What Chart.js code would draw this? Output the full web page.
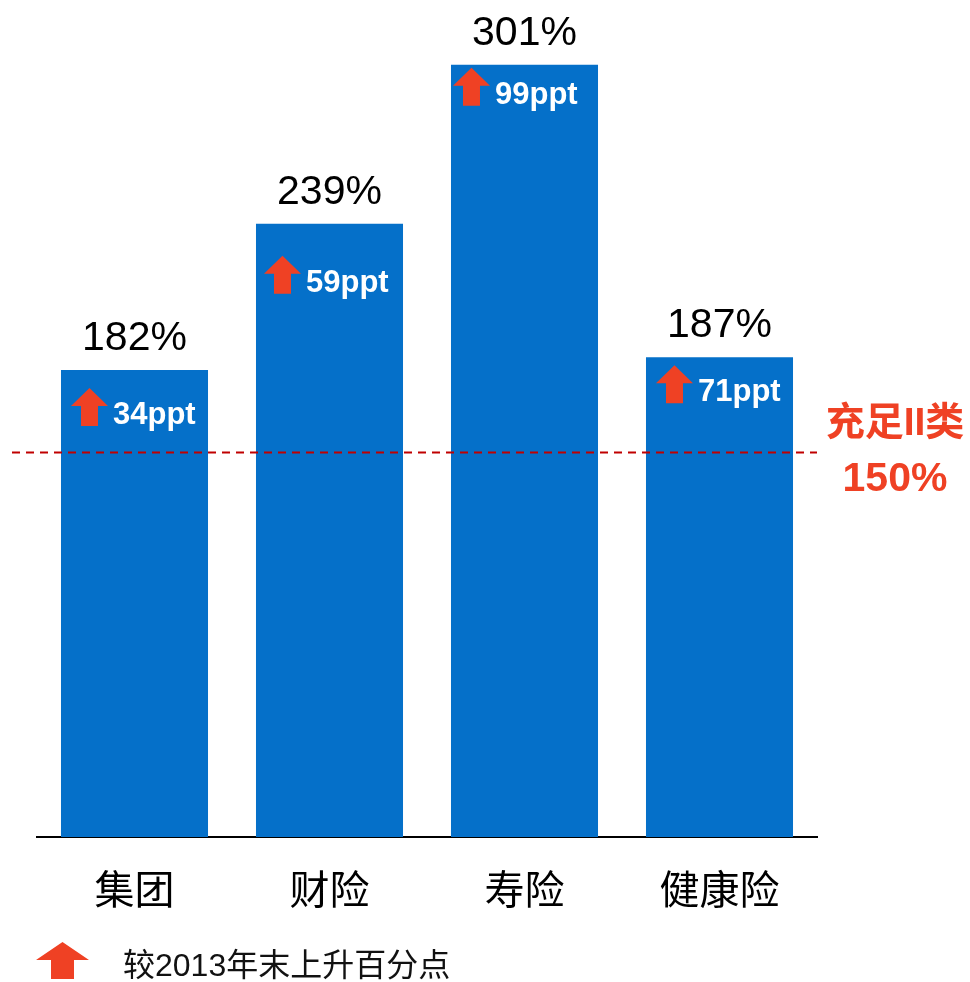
<!DOCTYPE html>
<html>
<head>
<meta charset="utf-8">
<script src="https://cdn.jsdelivr.net/npm/chart.js@4/dist/chart.umd.min.js"></script>
<style>
  html, body { margin: 0; padding: 0; background: #fff; }
</style>
</head>
<body>
<canvas id="c" width="970" height="982"></canvas>
<script>
const categories = ["集团", "财险", "寿险", "健康险"];
const ratios = [182, 239, 301, 187];
const increases = [34, 59, 99, 71];
const threshold = 150;
const thresholdLabel = ["充足II类", "150%"];
const legendLabel = "较2013年末上升百分点";

// where the little arrow sits inside each bar (px from the bar's top-left corner)
const arrowDx = [10, 8, 2, 10];
const arrowDy = [18, 32, 3, 8];

const BLUE = "#0570C9";
const RED = "#EF4124";
const LATIN = "'Liberation Sans', Arial, 'Noto Sans CJK SC'";
const CJK = "'Noto Sans CJK SC', 'Liberation Sans'";

const upArrow = (ctx, x, y, w, h, headH, shaftW) => {
    const cx = x + w / 2;
    ctx.beginPath();
    ctx.moveTo(cx, y);
    ctx.lineTo(x + w, y + headH);
    ctx.lineTo(cx + shaftW / 2, y + headH);
    ctx.lineTo(cx + shaftW / 2, y + h);
    ctx.lineTo(cx - shaftW / 2, y + h);
    ctx.lineTo(cx - shaftW / 2, y + headH);
    ctx.lineTo(x, y + headH);
    ctx.closePath();
    ctx.fill();
};

const annotations = {
    id: "annotations",
    afterDatasetsDraw(chart) {
        const ctx = chart.ctx;
        const meta = chart.getDatasetMeta(0);
        const yScale = chart.scales.y;
        ctx.save();

        // bar labels
        meta.data.forEach((bar, i) => {
            const left = bar.x - bar.width / 2;
            ctx.fillStyle = "#000";
            ctx.font = "41px " + LATIN;
            ctx.textAlign = "center";
            ctx.textBaseline = "alphabetic";
            ctx.fillText(ratios[i] + "%", bar.x, bar.y - 20);

            const ax = left + arrowDx[i], ay = bar.y + arrowDy[i];
            ctx.fillStyle = RED;
            upArrow(ctx, ax, ay, 37, 38, 18, 17);
            ctx.fillStyle = "#fff";
            ctx.font = "bold 31px " + LATIN;
            ctx.textAlign = "left";
            ctx.fillText(increases[i] + "ppt", ax + 42, ay + 36);
        });

        // threshold line
        const ty = Math.round(yScale.getPixelForValue(threshold)) + 0.5;
        ctx.strokeStyle = "#C00000";
        ctx.lineWidth = 2;
        ctx.setLineDash([8, 6]);
        ctx.beginPath();
        ctx.moveTo(12, ty);
        ctx.lineTo(chart.chartArea.right, ty);
        ctx.stroke();
        ctx.setLineDash([]);

        ctx.fillStyle = RED;
        ctx.textAlign = "center";
        ctx.textBaseline = "middle";
        ctx.font = "bold 39px " + LATIN;
        ctx.fillText(thresholdLabel[0], 895, ty - 28);
        ctx.textBaseline = "alphabetic";
        ctx.font = "bold 41px " + LATIN;
        ctx.fillText(thresholdLabel[1], 895, ty + 38);

        // legend
        ctx.fillStyle = RED;
        upArrow(ctx, 36, 942, 53, 37, 18, 23);
        ctx.fillStyle = "#111";
        ctx.textAlign = "left";
        ctx.textBaseline = "middle";
        ctx.font = "32px " + LATIN;
        ctx.fillText(legendLabel, 123, 967);

        ctx.restore();
    }
};

new Chart(document.getElementById("c").getContext("2d"), {
    type: "bar",
    data: {
        labels: categories,
        datasets: [{
            label: legendLabel,
            data: ratios,
            backgroundColor: BLUE,
            categoryPercentage: 1,
            barPercentage: 0.754
        }]
    },
    options: {
        responsive: false,
        animation: false,
        layout: { padding: { left: 37, right: 153, top: 16, bottom: 0 } },
        plugins: {
            legend: { display: false },
            tooltip: { enabled: false }
        },
        scales: {
            x: {
                grid: { display: false, drawTicks: false },
                border: { display: true, color: "#000", width: 2 },
                ticks: {
                    color: "#000",
                    padding: 28,
                    font: { family: CJK, size: 40 }
                },
                afterFit: (scale) => { scale.height = 145; }
            },
            y: {
                display: false,
                min: 0,
                max: 320
            }
        }
    },
    plugins: [annotations]
});
</script>
</body>
</html>
